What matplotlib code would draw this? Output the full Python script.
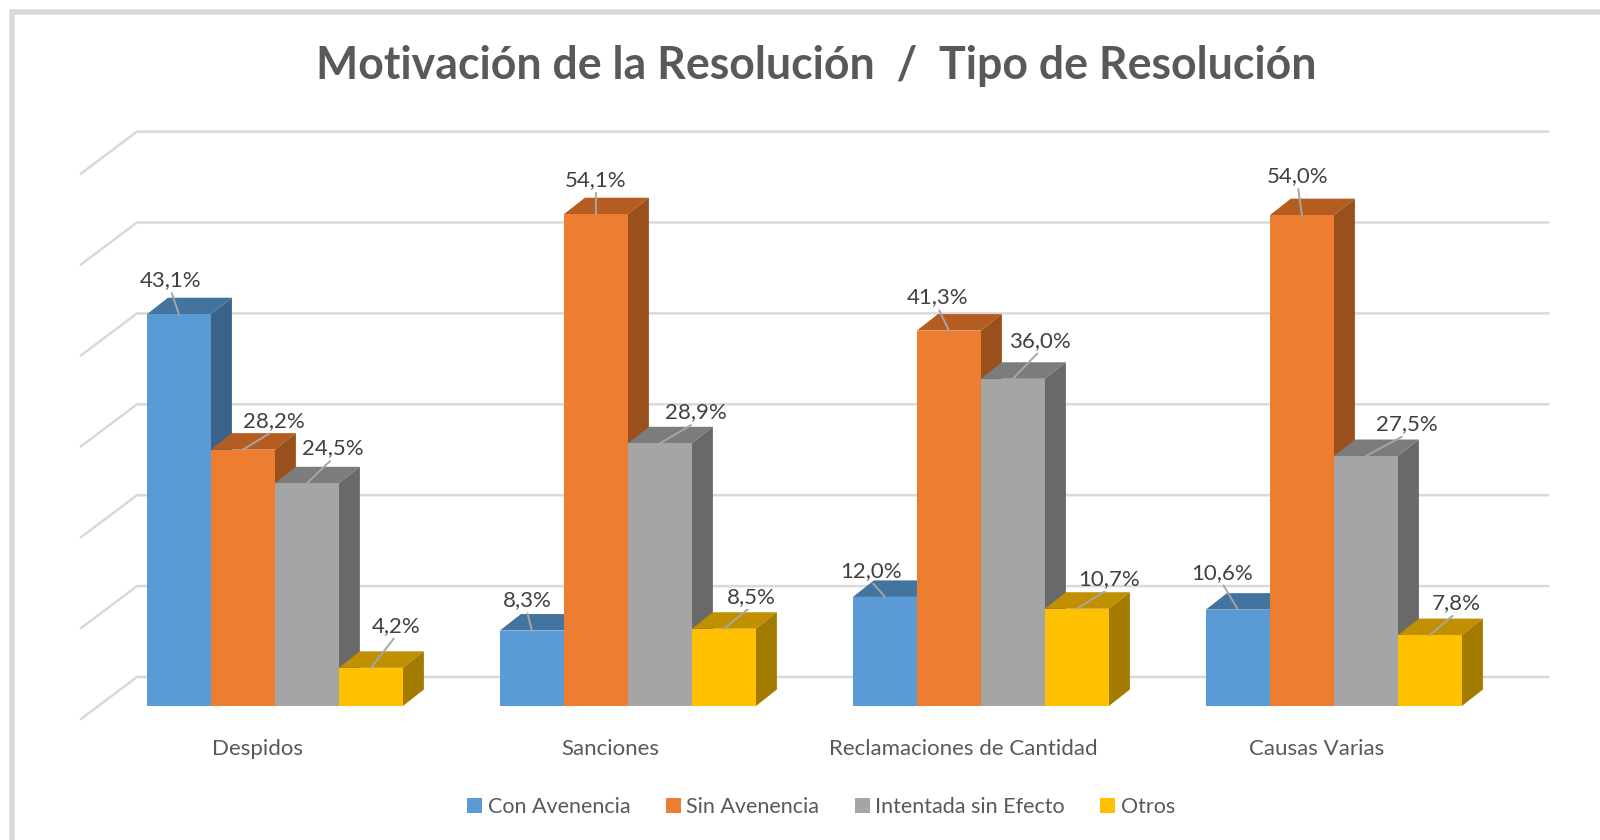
#!/usr/bin/env python3
"""Motivación de la Resolución / Tipo de Resolución - fake 3D clustered columns."""

import matplotlib
matplotlib.use('Agg')
import matplotlib.pyplot as plt
from matplotlib.patches import Polygon, Rectangle

plt.rcParams['font.family'] = ['Lato', 'DejaVu Sans']

categories = ['Despidos', 'Sanciones', 'Reclamaciones de Cantidad', 'Causas Varias']
series_names = ['Con Avenencia', 'Sin Avenencia', 'Intentada sin Efecto', 'Otros']
con_avenencia = [43.1, 8.3, 12.0, 10.6]
sin_avenencia = [28.2, 54.1, 41.3, 54.0]
intentada = [24.5, 28.9, 36.0, 27.5]
otros = [4.2, 8.5, 10.7, 7.8]
grid_values = [0, 10, 20, 30, 40, 50, 60]

series = [con_avenencia, sin_avenencia, intentada, otros]
front_colors = ['#5B9BD5', '#ED7D31', '#A5A5A5', '#FFC000']
top_colors = ['#4374A0', '#B55D20', '#7C7C7C', '#C09000']
side_colors = ['#3A638A', '#99501C', '#696969', '#A37B00']

# label offset from the top of each bar, in pixels (one row per series)
label_offsets = [
    [(-8, 34), (-5, 30), (-14, 26), (-16, 37)],
    [(31, 29), (0, 34), (-11, 33), (-4, 39)],
    [(26, 35), (36, 31), (27, 38), (41, 32)],
    [(25, 42), (27, 32), (32, 30), (26, 32)],
]

# pixel scale of the picture
W, H = 1600, 840
PX_X = 353.0  # one category
PX_Y = 9.09   # one percent
X0 = 274.9    # centre of first group
Y0 = 706.0    # bar base

bar_w = 64 / PX_X
depth_x = 21 / PX_X
depth_y = 16.5 / PX_Y
wall_y = 29 / PX_Y
wall_x = (X0 - 137) / PX_X
wall_end = (1548 - X0) / PX_X
floor_x = (X0 - 81) / PX_X
floor_y = -13 / PX_Y
label_shift = 17.5 / PX_X

fig = plt.figure(figsize=(16, 8.4), dpi=100)
ax = fig.add_axes([0, 0, 1, 1])
ax.set_xlim(-X0 / PX_X, (W - X0) / PX_X)
ax.set_ylim((Y0 - H) / PX_Y, Y0 / PX_Y)
ax.axis('off')

# chart frame
fig.add_artist(Rectangle((12 / W, -0.05), 1.2, 1.05 - 12.5 / H, transform=fig.transFigure,
                         fill=False, edgecolor='#D9D9D9', linewidth=4))

# back wall and left wall grid
for v in grid_values:
    ax.plot([-floor_x, -wall_x, wall_end],
            [v + floor_y, v + wall_y, v + wall_y],
            color='#D9D9D9', linewidth=1.8, zorder=1, solid_joinstyle='round')

handles = []
for s, values in enumerate(series):
    xs = [i - 2 * bar_w + (s + 0.5) * bar_w for i in range(len(categories))]
    z = 2 + s * 2
    bars = ax.bar(xs, values, width=bar_w, color=front_colors[s], zorder=z + 1,
                  label=series_names[s], linewidth=0)
    handles.append(bars)
    for x, v in zip(xs, values):
        left, right = x - bar_w / 2, x + bar_w / 2
        ax.add_patch(Polygon([(left, v), (left + depth_x, v + depth_y),
                              (right + depth_x, v + depth_y), (right, v)],
                             closed=True, facecolor=top_colors[s], edgecolor='none', zorder=z))
        ax.add_patch(Polygon([(right, 0), (right + depth_x, depth_y),
                              (right + depth_x, v + depth_y), (right, v)],
                             closed=True, facecolor=side_colors[s], edgecolor='none', zorder=z))

# value labels with leader lines, on top of everything
for s, values in enumerate(series):
    xs = [i - 2 * bar_w + (s + 0.5) * bar_w for i in range(len(categories))]
    for x, v, off in zip(xs, values, label_offsets[s]):
        ax.annotate(f'{v:.1f}%'.replace('.', ','), xy=(x, v), xytext=off,
                    textcoords='offset pixels', ha='center', va='center',
                    fontsize=16, color='#404040', zorder=20,
                    arrowprops=dict(arrowstyle='-', color='#A6A6A6', linewidth=1.4,
                                    shrinkA=0, shrinkB=0, relpos=(0.5, 0.0)))

# category labels
for i, name in enumerate(categories):
    ax.text(i - label_shift, (Y0 - 749) / PX_Y, name, ha='center', va='center',
            fontsize=16, color='#595959')

ax.text((816 - X0) / PX_X, (Y0 - 66) / PX_Y, 'Motivación de la Resolución  /  Tipo de Resolución',
        ha='center', va='center', fontsize=32.1, fontweight='bold', color='#595959')

ax.legend(handles=handles, loc='center', bbox_to_anchor=(821 / W, 1 - 807 / H),
          bbox_transform=fig.transFigure, ncol=4, frameon=False, fontsize=15.5,
          labelcolor='#595959', handlelength=0.7, handleheight=0.7,
          handletextpad=0.25, columnspacing=1.65)

plt.savefig('out.png', dpi=100)
plt.close()
